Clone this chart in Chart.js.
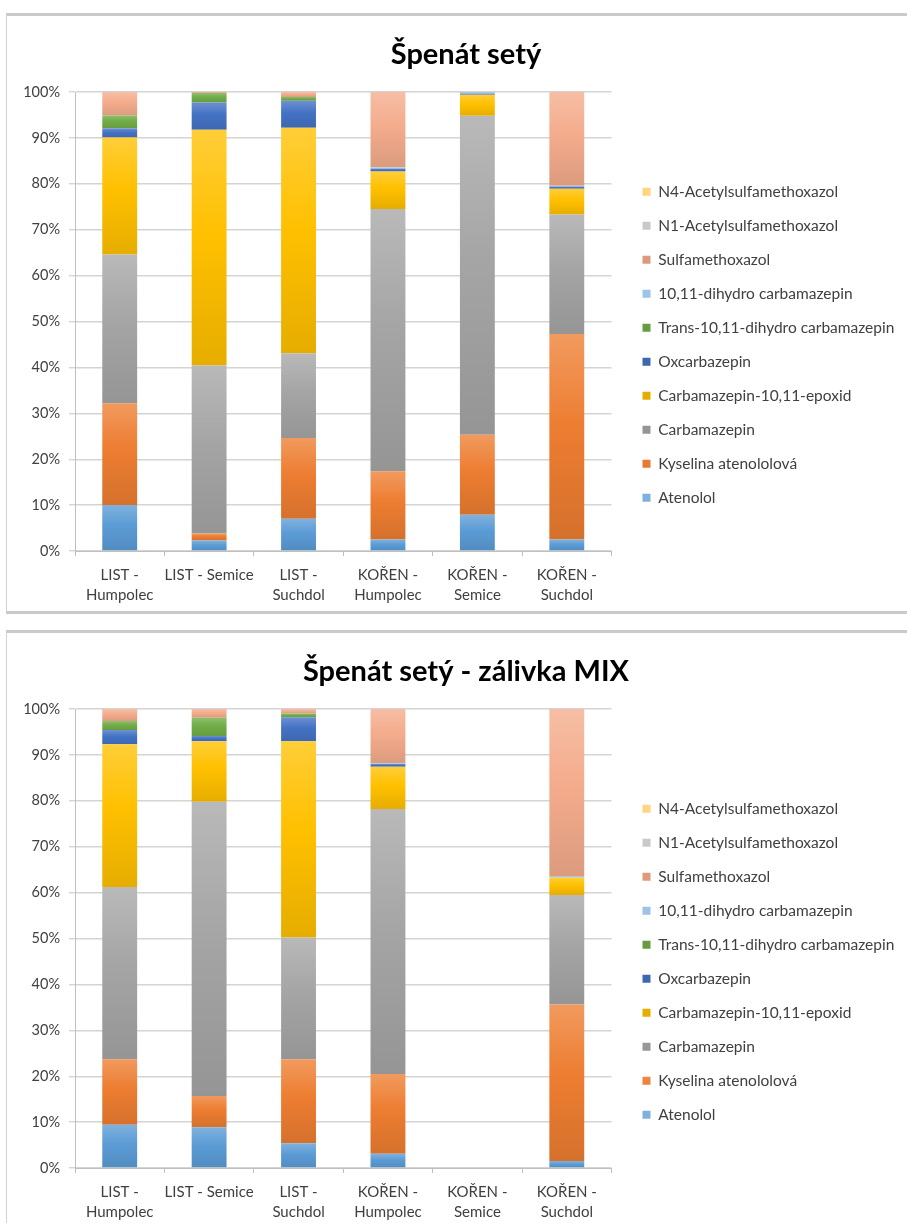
<!DOCTYPE html>
<html>
<head>
<meta charset="utf-8">
<script src="https://cdn.jsdelivr.net/npm/chart.js@4.4.1/dist/chart.umd.min.js"></script>
<style>
  html, body { margin: 0; padding: 0; background: #fff; width: 907px; height: 1223px; overflow: hidden; position: relative; }
  .panel { position: absolute; left: 6px; width: 980px; box-sizing: border-box;
           border: 1.5px solid #d2d2d2; border-top: 3px solid #cacaca; border-bottom: 3px solid #cacaca; }
  .plot { position: absolute; left: 8px; width: 916px; height: 598px; }
</style>
</head>
<body>
<div class="panel" style="top:13px; height:601px;"></div>
<div class="panel" style="top:630px; height:700px;"></div>
<div class="plot" style="top:15px;"><canvas id="chartSety"></canvas></div>
<div class="plot" style="top:632px;"><canvas id="chartMix"></canvas></div>

<script>
// Categories (plant part - locality)
const categories = [
  ['LIST -', 'Humpolec'], 'LIST - Semice', ['LIST -', 'Suchdol'],
  ['KOŘEN -', 'Humpolec'], ['KOŘEN -', 'Semice'], ['KOŘEN -', 'Suchdol']
];

// Compounds, stacked from the bottom up
const compounds = [
  'Atenolol', 'Kyselina atenololová', 'Carbamazepin', 'Carbamazepin-10,11-epoxid',
  'Oxcarbazepin', 'Trans-10,11-dihydro carbamazepin', '10,11-dihydro carbamazepin',
  'Sulfamethoxazol', 'N1-Acetylsulfamethoxazol', 'N4-Acetylsulfamethoxazol'
];
const compoundColors = [
  '#5B9BD5', '#ED7D31', '#A5A5A5', '#FFC000', '#4472C4',
  '#70AD47', '#9DC3E6', '#F4AC8C', '#C9C9C9', '#FFD580'
];

const percentTicks = ['0%', '10%', '20%', '30%', '40%', '50%', '60%', '70%', '80%', '90%', '100%'];

// Špenát setý – share of each compound (%)
const setyAtenolol     = [10.0, 2.3, 7.0, 2.5, 7.9, 2.5];
const setyKyselina     = [22.2, 1.5, 17.6, 14.9, 17.4, 44.8];
const setyCarbamazepin = [32.4, 36.6, 18.5, 57.1, 69.5, 26.0];
const setyEpoxid       = [25.5, 51.4, 49.1, 8.2, 4.6, 5.6];
const setyOxcarb       = [2.0, 5.9, 5.9, 0.6, 0.2, 0.5];
const setyTransDihydro = [2.8, 2.1, 0.8, 0, 0, 0];
const setyDihydro      = [0, 0, 0, 0.3, 0.4, 0.2];
const setySulfa        = [5.1, 0.2, 1.1, 16.4, 0, 20.4];
const setyN1           = [0, 0, 0, 0, 0, 0];
const setyN4           = [0, 0, 0, 0, 0, 0];

// Špenát setý – zálivka MIX – share of each compound (%)
const mixAtenolol     = [9.4, 8.9, 5.4, 3.1, 0, 1.5];
const mixKyselina     = [14.3, 6.8, 18.3, 17.4, 0, 34.1];
const mixCarbamazepin = [37.5, 64.1, 26.5, 57.7, 0, 23.9];
const mixEpoxid       = [31.1, 13.2, 42.8, 9.2, 0, 3.8];
const mixOxcarb       = [3.1, 1.1, 5.2, 0.6, 0, 0];
const mixTransDihydro = [2.0, 4.0, 0.8, 0, 0, 0];
const mixDihydro      = [0, 0, 0, 0.2, 0, 0.3];
const mixSulfa        = [2.6, 1.9, 1.0, 11.8, 0, 36.4];
const mixN1           = [0, 0, 0, 0, 0, 0];
const mixN4           = [0, 0, 0, 0, 0, 0];

const FONT = 'Lato, "Open Sans", sans-serif';
const TEXT = '#404040';

function mix(hex, target, t) {
  const n = parseInt(hex.slice(1), 16);
  const c = [(n >> 16) & 255, (n >> 8) & 255, n & 255].map(v => Math.round(v + (target - v) * t));
  return 'rgb(' + c.join(',') + ')';
}

// Each bar segment gets a vertical sheen: lighter on top, darker at the bottom
function shaded(base) {
  return (ctx) => {
    const chart = ctx.chart;
    if (ctx.type !== 'data' || !chart.chartArea || !chart.scales.y) return base;
    const sets = chart.data.datasets;
    let start = 0;
    for (let k = 0; k < ctx.datasetIndex; k++) start += sets[k].data[ctx.dataIndex] || 0;
    const end = start + (sets[ctx.datasetIndex].data[ctx.dataIndex] || 0);
    const top = chart.scales.y.getPixelForValue(end);
    const bottom = chart.scales.y.getPixelForValue(start);
    if (!(bottom - top > 0.5)) return base;
    const g = chart.ctx.createLinearGradient(0, top, 0, bottom);
    g.addColorStop(0, mix(base, 255, 0.22));
    g.addColorStop(0.45, base);
    g.addColorStop(1, mix(base, 0, 0.1));
    return g;
  };
}

// Heading centred over the whole panel (legend included)
const panelTitle = {
  id: 'panelTitle',
  afterDraw(chart, args, opts) {
    const ctx = chart.ctx;
    ctx.save();
    ctx.font = 'bold ' + opts.size + 'px ' + FONT;
    ctx.fillStyle = opts.color;
    ctx.textAlign = 'center';
    ctx.textBaseline = 'middle';
    ctx.fillText(opts.text, chart.width / 2, opts.y);
    ctx.restore();
  }
};

function buildChart(id, title, series) {
  const datasets = compounds.map((name, i) => ({
    label: name,
    data: series[i],
    backgroundColor: shaded(compoundColors[i]),
    borderWidth: 0,
    barPercentage: 0.39,
    categoryPercentage: 1
  }));
  return new Chart(document.getElementById(id), {
    type: 'bar',
    data: { labels: categories, datasets },
    plugins: [panelTitle],
    options: {
      responsive: true,
      maintainAspectRatio: false,
      animation: false,
      events: [],
      layout: { padding: { left: 11, right: 26, top: 77, bottom: 0 } },
      plugins: {
        panelTitle: { text: title, size: 29, color: '#000', y: 39.5 },
        title: { display: false },
        legend: {
          position: 'right', fullSize: false, reverse: true, align: 'center', maxWidth: 274,
          title: { display: true, text: '', padding: { top: 36.5, bottom: 0 }, font: { size: 10, lineHeight: 1 } },
          labels: { boxWidth: 8, boxHeight: 8, padding: 18.5, color: TEXT, font: { family: FONT, size: 15.5 } }
        },
        tooltip: { enabled: false }
      },
      scales: {
        x: {
          stacked: true,
          grid: { offset: true, drawOnChartArea: false, drawTicks: true, tickLength: 5, color: '#bfbfbf' },
          border: { color: '#bfbfbf' },
          ticks: { color: TEXT, padding: 9, maxRotation: 0, autoSkip: false,
                   font: { family: FONT, size: 15, lineHeight: 1.33 } },
          afterFit: (s) => { s.height = 62; }
        },
        y: {
          stacked: true, min: 0, max: 100,
          grid: { color: '#d4d4d4', lineWidth: 1.4, tickLength: 6 },
          border: { color: '#bfbfbf' },
          ticks: { stepSize: 10, color: TEXT, padding: 9, font: { family: FONT, size: 14.5 },
                   callback: (v) => percentTicks[Math.round(v / 10)] },
          afterFit: (s) => { s.width = 56; }
        },
        gap: {
          type: 'linear', position: 'right', display: true,
          grid: { display: false }, ticks: { display: false }, border: { display: false },
          afterFit: (s) => { s.width = 12.5; }
        }
      }
    }
  });
}

buildChart('chartSety', 'Špenát setý', [
  setyAtenolol, setyKyselina, setyCarbamazepin, setyEpoxid, setyOxcarb,
  setyTransDihydro, setyDihydro, setySulfa, setyN1, setyN4
]);
buildChart('chartMix', 'Špenát setý - zálivka MIX', [
  mixAtenolol, mixKyselina, mixCarbamazepin, mixEpoxid, mixOxcarb,
  mixTransDihydro, mixDihydro, mixSulfa, mixN1, mixN4
]);
</script>
</body>
</html>
